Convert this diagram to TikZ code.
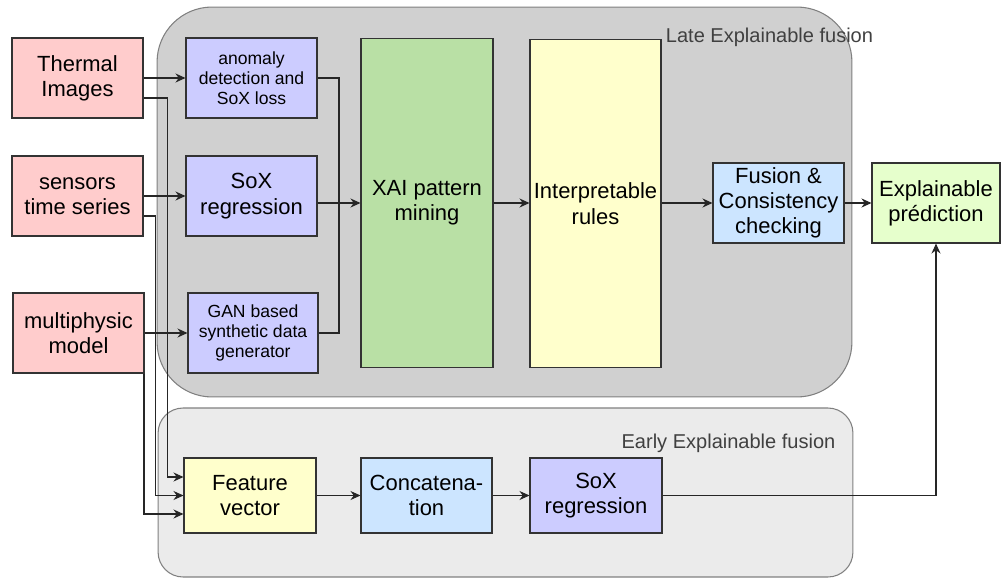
\documentclass[tikz,border=0pt]{standalone}
\usepackage{fontspec}
\setmainfont{Liberation Sans}
\usepackage{tikz}
\usetikzlibrary{arrows.meta,positioning}
\definecolor{inpink}{RGB}{255,204,204}
\definecolor{soxpurple}{RGB}{204,204,255}
\definecolor{xaigreen}{RGB}{185,224,165}
\definecolor{ruleyellow}{RGB}{255,255,204}
\definecolor{fusionblue}{RGB}{204,229,255}
\definecolor{predgreen}{RGB}{230,255,204}
\definecolor{lategray}{RGB}{208,208,208}
\definecolor{earlygray}{RGB}{235,235,235}

\begin{document}
\begin{tikzpicture}[x=0.02cm, y=-0.02cm,
    box/.style={rectangle, draw=black!80, line width=0.6pt, minimum width=2.62cm,
                minimum height=1.6cm, align=center, inner sep=1pt,
                font=\fontsize{12.5}{14.4}\selectfont},
    small/.style={font=\fontsize{10}{11.5}\selectfont},
    group/.style={rectangle, draw=black!50, line width=0.6pt, minimum width=13.9cm},
    grouplabel/.style={text=black!75, inner sep=0pt, font=\fontsize{11.4}{13}\selectfont},
    arr/.style={-{Stealth[length=2mm,width=1.8mm]}, line width=0.6pt, black!85},
    wire/.style={line width=0.6pt, black!85}]
    \useasboundingbox (0,0) rectangle (1001,578);
    \node[group, fill=lategray, minimum height=7.8cm, rounded corners=1.1cm] (late) at (504.5,202) {};
    \node[group, fill=earlygray, minimum height=3.38cm, rounded corners=0.5cm] (early) at (505.5,492.5) {};
    \node[grouplabel] (latelbl) at (769.5,37) {Late Explainable fusion};
    \node[grouplabel] (earlylbl) at (728.5,443) {Early Explainable fusion};
    \node[box, fill=inpink] (ti) at (77.5,78) {Thermal\\Images};
    \node[box, fill=inpink] (st) at (77.5,196) {sensors\\time series};
    \node[box, fill=inpink] (mp) at (78.5,333) {multiphysic\\model};
    \node[box, small, fill=soxpurple] (an) at (251.5,78) {anomaly\\detection and\\SoX loss};
    \node[box, fill=soxpurple] (sx) at (251.5,196) {SoX\\regression};
    \node[box, small, fill=soxpurple, minimum width=2.6cm] (gan) at (253,333) {GAN based\\synthetic data\\generator};
    \node[box, fill=xaigreen, minimum width=2.64cm, minimum height=6.6cm] (xai) at (427,203) {XAI pattern\\mining};
    \node[box, fill=ruleyellow, minimum height=6.58cm] (ir) at (595.5,203.5) {Interpretable\\rules};
    \node[box, fill=fusionblue] (fc) at (778.5,203) {Fusion \&\\Consistency\\checking};
    \node[box, fill=predgreen, minimum width=2.56cm] (pred) at (936,203) {Explainable\\prédiction};
    \node[box, fill=ruleyellow, minimum width=2.64cm, minimum height=1.5cm] (fv) at (250,495.5) {Feature\\vector};
    \node[box, fill=fusionblue, minimum height=1.5cm] (cc) at (426.5,495.5) {Concatena-\\tion};
    \node[box, fill=soxpurple, minimum width=2.64cm, minimum height=1.5cm] (sx2) at (596,495.5) {SoX\\regression};
    \coordinate (join) at (339,203);
    \draw[arr] (ti.east) -- (an.west);
    \draw[arr] (st.east) -- (sx.west);
    \draw[arr] (mp.east) -- (gan.west);
    \draw[arr] ([yshift=-0.4cm]ti.east) -| ([xshift=-0.32cm,yshift=0.37cm]fv.west) -- ([yshift=0.37cm]fv.west);
    \draw[arr] ([yshift=-0.4cm]st.east) -| ([xshift=-0.56cm]fv.west) -- (fv.west);
    \draw[arr] ([xshift=-0.3pt]mp.south east) |- ([yshift=-0.37cm]fv.west);
    \draw[wire] (an.east) -| (join);
    \draw[wire] (gan.east) -| (join);
    \draw[arr] (xai.west -| sx.east) -- (xai.west);
    \draw[arr] (xai.east) -- (xai.east -| ir.west);
    \draw[arr] (ir.east |- fc.west) -- (fc.west);
    \draw[arr] (fc) -- (pred);
    \draw[arr] (fv) -- (cc);
    \draw[arr] (cc) -- (sx2);
    \draw[arr] (sx2.east) -| (pred.south);
\end{tikzpicture}
\end{document}
